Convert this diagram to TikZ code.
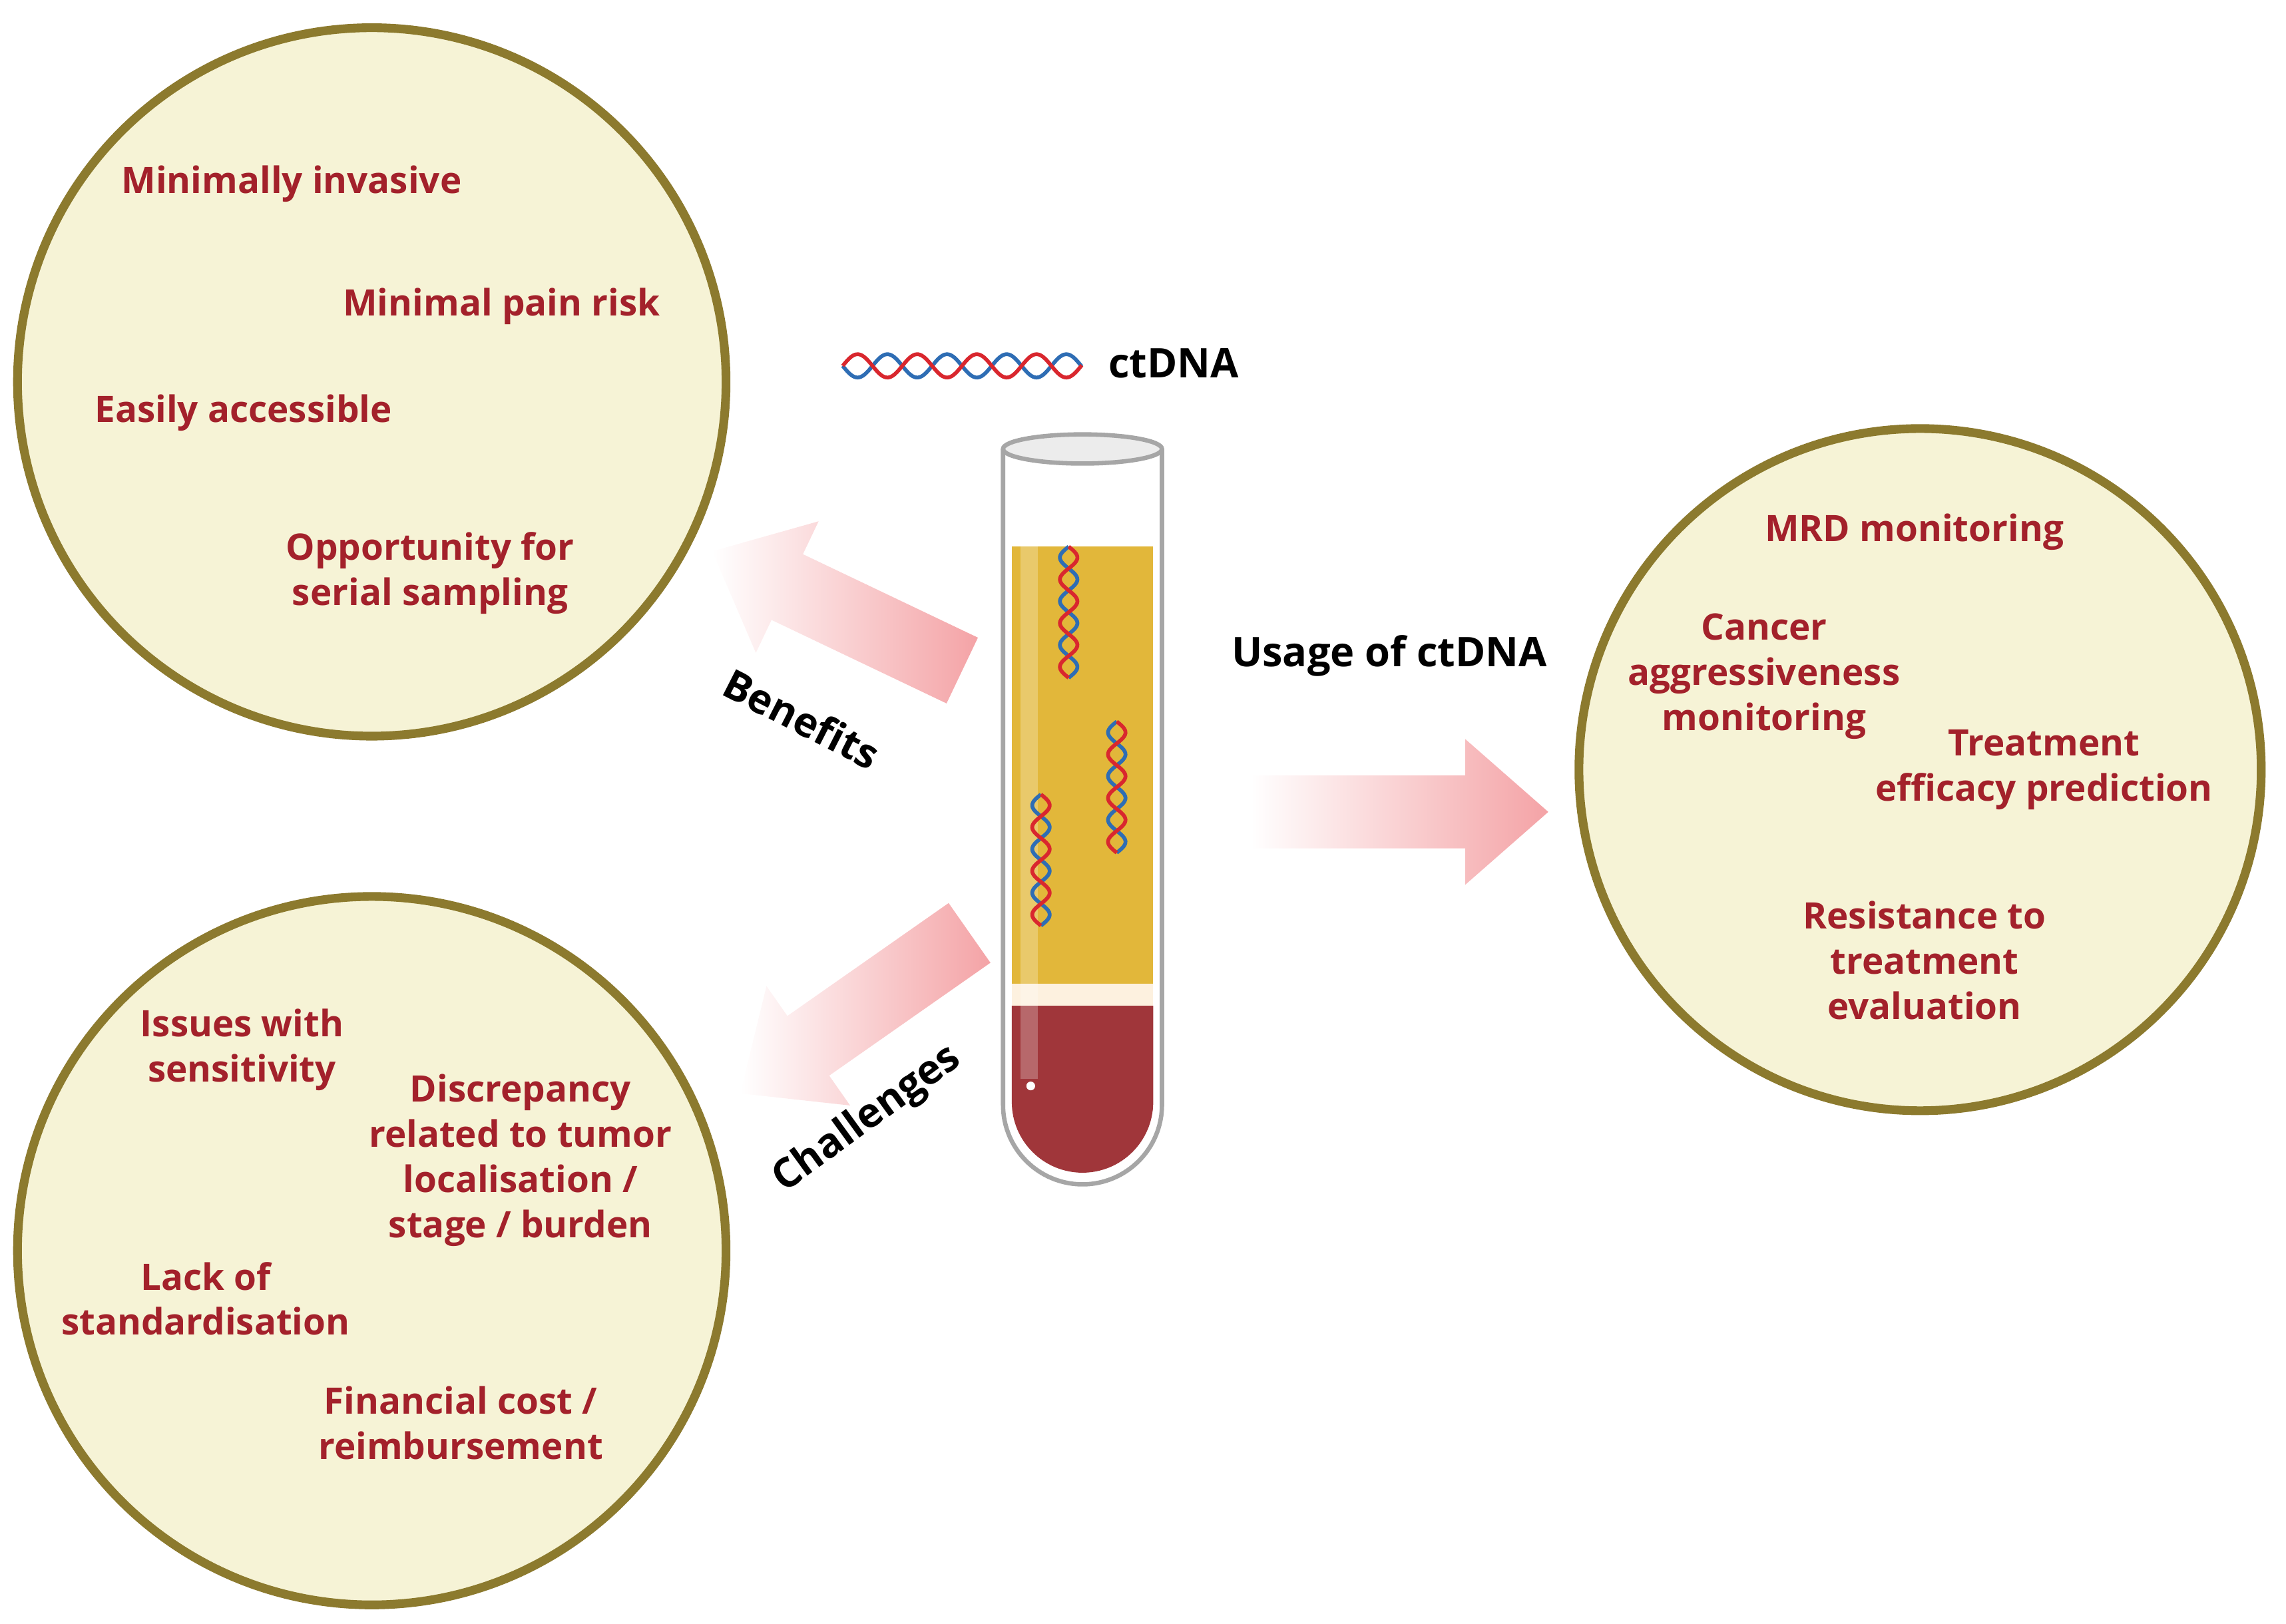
\documentclass[tikz,border=0pt]{standalone}
\usepackage{fontspec}
\setmainfont{Open Sans}
\begin{document}
\definecolor{circfill}{HTML}{F6F3D6}
\definecolor{circdraw}{HTML}{8C7A2E}
\definecolor{txtred}{HTML}{A3212B}
\definecolor{arrpink}{HTML}{F4A3A6}
\definecolor{plasma}{HTML}{E2B73A}
\definecolor{blood}{HTML}{A0363A}
\definecolor{dnared}{HTML}{D9272E}
\definecolor{dnablue}{HTML}{2E6DB4}
\newcommand\helixdraw[6]{% x y length angle amplitude freq
 \begin{scope}[shift={(#1,#2)},rotate=#4]
  \draw[dnablue,line width=1.3pt,domain=0:#3,samples=80,smooth] plot (\x,{#5*sin(\x*#6)});
  \draw[dnared,line width=1.3pt,domain=0:#3,samples=80,smooth] plot (\x,{-#5*sin(\x*#6)});
 \end{scope}}
\newcommand\fatarrow[4]{% x y angle length
 \begin{scope}[shift={(#1,#2)},rotate=#3]
  \shade[left color=white,right color=arrpink,draw=none]
   (0,-25) -- (#4-57,-25) -- (#4-57,-50) -- (#4,0) -- (#4-57,50) -- (#4-57,25) -- (0,25) -- cycle;
 \end{scope}}
\begin{tikzpicture}[x=0.5pt,y=-0.5pt,
  circ/.style={circle,fill=circfill,draw=circdraw,line width=3pt,minimum size=#1},
  lab/.style={text=txtred,font=\fontsize{12.5}{15.5}\selectfont\bfseries,align=center,inner sep=0pt},
  blab/.style={text=black,font=\fontsize{14}{16}\selectfont\bfseries,align=center,inner sep=0pt}]
\useasboundingbox (0,0) rectangle (1568,1114);
\node[circ=243pt] (c1) at (255,262) {};
\node[circ=243pt] (c2) at (255,858) {};
\node[circ=234pt] (c3) at (1317,528) {};
% arrows
\fatarrow{660}{460}{154.5}{190}
\fatarrow{665}{640}{215}{192}
\fatarrow{858}{557}{0}{204}
% tube
\fill[white] (688,308) -- (688,758) arc(180:0:54.5) -- (797,308) -- cycle;
\fill[plasma] (694,375) rectangle (791,675);
\fill[circfill!70!orange!30] (694,675) rectangle (791,690);
\fill[blood] (694,690) -- (694,756) arc(180:0:48.5) -- (791,690) -- cycle;
\fill[white,opacity=0.25] (700,330) rectangle (712,740);
\draw[gray!70,line width=1.5pt] (688,308) -- (688,758) arc(180:0:54.5) -- (797,308);
\draw[gray!70,line width=1.5pt,fill=gray!15] (742.5,308) ellipse (54.5 and 10);
\fill[white] (707,745) circle (3);
\helixdraw{733}{375}{90}{-90}{6}{12}
\helixdraw{766}{495}{90}{-90}{6}{12}
\helixdraw{714}{545}{90}{-90}{6}{12}
\helixdraw{578}{251}{164}{0}{8}{8.8}
% labels
\node[blab,anchor=west] (ct) at (760,249) {ctDNA};
\node[blab] (usage) at (953,450) {Usage of ctDNA};
\node[blab,rotate=-27] (ben) at (550,493) {Benefits};
\node[blab,rotate=36] (chal) at (595,768) {Challenges};
\node[lab] (t1) at (200,126) {Minimally invasive};
\node[lab] (t2) at (344,210) {Minimal pain risk};
\node[lab] (t3) at (167,283) {Easily accessible};
\node[lab] (t4) at (295,393) {Opportunity for\\serial sampling};
\node[lab] (t5) at (166,720) {Issues with\\sensitivity};
\node[lab] (t6) at (357,796) {Discrepancy\\related to tumor\\localisation /\\stage / burden};
\node[lab] (t7) at (141,891) {Lack of\\standardisation};
\node[lab] (t8) at (316,976) {Financial cost /\\reimbursement};
\node[lab] (t9) at (1313,365) {MRD monitoring};
\node[lab] (t10) at (1210,464) {Cancer\\aggressiveness\\monitoring};
\node[lab] (t11) at (1402,528) {Treatment\\efficacy prediction};
\node[lab] (t12) at (1320,659) {Resistance to\\treatment\\evaluation};
\end{tikzpicture}
\end{document}
